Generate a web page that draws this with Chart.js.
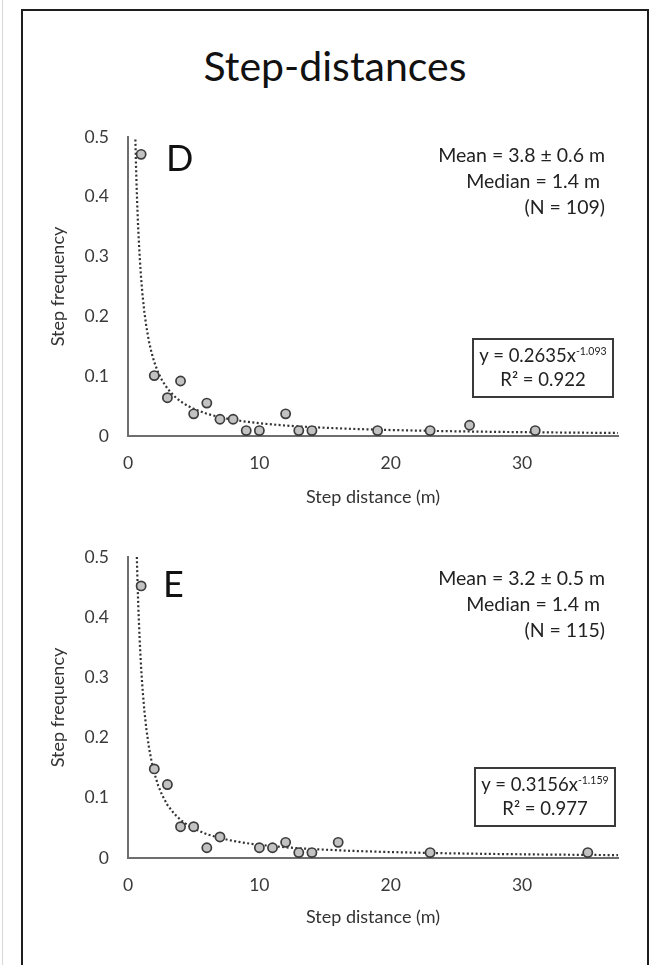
<!DOCTYPE html>
<html>
<head>
<meta charset="utf-8">
<script src="https://cdn.jsdelivr.net/npm/chart.js@4.4.1/dist/chart.umd.min.js"></script>
<style>
  body { margin: 0; background: #fff; font-family: Lato, "Noto Sans", sans-serif; color: #222; }
  #page { position: relative; width: 654px; height: 965px; overflow: hidden; }
  #frame { position: absolute; left: 21px; top: 9px; width: 624px; height: 980px; border: 2px solid #1e1e1e; }
  #edge { position: absolute; left: 2px; top: 0; width: 1px; height: 965px; background: #d8d8d8; }
  h1 { position: absolute; left: 0; width: 670px; top: 41px; margin: 0; text-align: center; font-weight: 400; font-size: 41px; line-height: 1.2; color: #111; }
  canvas { position: absolute; left: 0; }
  .panel { position: absolute; font-size: 36px; line-height: 40px; color: #111; }
  .stats { position: absolute; right: 49px; text-align: right; font-size: 19.5px; line-height: 26px; white-space: pre; color: #222; }
  .eq { position: absolute; width: 138px; height: 53px; border: 2px solid #3a3a3a; text-align: center; font-size: 18.5px; line-height: 24px; padding-top: 3px; box-sizing: content-box; color: #222; white-space: nowrap; }
  .eq sup { font-size: 10.5px; vertical-align: 7px; line-height: 0; }
</style>
</head>
<body>
<div id="page">
  <div id="edge"></div>
  <div id="frame"></div>
  <h1>Step-distances</h1>

  <canvas id="chart_d" width="654" height="420" style="top:100px"></canvas>
  <canvas id="chart_e" width="654" height="420" style="top:520px"></canvas>

  <div class="panel" style="left:166px; top:137px">D</div>
  <div class="stats" style="top:142px">Mean = 3.8 ± 0.6 m
Median = 1.4 m 
(N = 109)</div>
  <div class="eq" style="left:472px; top:338px">y = 0.2635x<sup>-1.093</sup><br>R² = 0.922</div>

  <div class="panel" style="left:163px; top:563px">E</div>
  <div class="stats" style="top:565px">Mean = 3.2 ± 0.5 m
Median = 1.4 m 
(N = 115)</div>
  <div class="eq" style="left:474px; top:767px">y = 0.3156x<sup>-1.159</sup><br>R² = 0.977</div>
</div>

<script>
// step distance (m) and share of steps, panel D
let distD = [1, 2, 3, 4, 5, 6, 7, 8, 9, 10, 12, 13, 14, 19, 23, 26, 31];
let freqD = [0.471, 0.101, 0.064, 0.092, 0.037, 0.055, 0.028, 0.028, 0.009, 0.009, 0.037, 0.009, 0.009, 0.009, 0.009, 0.018, 0.009];

// panel E
let distE = [1, 2, 3, 4, 5, 6, 7, 10, 11, 12, 13, 14, 16, 23, 35];
let freqE = [0.452, 0.148, 0.122, 0.052, 0.052, 0.017, 0.035, 0.017, 0.017, 0.026, 0.009, 0.009, 0.026, 0.009, 0.009];

// power trendlines y = a * x^b, coefficients as printed in the boxes
let trendD = [0.2635, -1.093];
let trendE = [0.3156, -1.159];
// x positions where the trendline gets sampled
let trendX = [0.5, 0.55, 0.6, 0.65, 0.7, 0.75, 0.8, 0.9, 1, 1.1, 1.25, 1.4, 1.6, 1.8, 2, 2.3, 2.6, 3, 3.5, 4, 4.5, 5, 6, 7, 8, 9, 10, 12, 14, 17, 20, 24, 28, 32, 37.3];

let yTicks = [0, 0.1, 0.2, 0.3, 0.4, 0.5];
let xTicks = [0, 10, 20, 30];

const font = "Lato, 'Noto Sans', sans-serif";

function toPoints(xs, ys){
    return xs.map(function(x, i){ return {x: x, y: ys[i]}; });
}

function trendPoints(coef){
    return trendX.map(function(x){ return {x: x, y: coef[0] * Math.pow(x, coef[1])}; });
}

function makeChart(id, dist, freq, coef, axisHeight){
    let ctx = document.getElementById(id);
    return new Chart(ctx, {
        type: 'scatter',
        data: {
            datasets: [{
                label: 'steps',
                data: toPoints(dist, freq),
                backgroundColor: '#c2c2c2',
                borderColor: '#3c3c3c',
                borderWidth: 1.7,
                pointRadius: 4.6
            }, {
                label: 'trend',
                type: 'line',
                data: trendPoints(coef),
                borderColor: '#333',
                borderWidth: 2.2,
                borderDash: [2, 2.4],
                pointRadius: 0,
                fill: false,
                tension: 0
            }]
        },
        options: {
            responsive: false,
            animation: false,
            events: [],
            layout: { padding: { top: 37, right: 36, left: 0, bottom: 0 } },
            plugins: { legend: { display: false }, tooltip: { enabled: false } },
            scales: {
                x: {
                    type: 'linear',
                    min: 0,
                    max: 37.3,
                    afterFit: function(scale){ scale.height = axisHeight; },
                    afterBuildTicks: function(scale){ scale.ticks = xTicks.map(function(v){ return {value: v}; }); },
                    grid: { display: false, drawTicks: false },
                    border: { display: true, color: '#6e6e6e', width: 2 },
                    ticks: { padding: 17, color: '#3a3a3a', font: { family: font, size: 17.5 } },
                    title: { display: true, text: 'Step distance (m)', color: '#333', font: { family: font, size: 18 }, padding: { top: 0, bottom: 12 } }
                },
                y: {
                    type: 'linear',
                    min: 0,
                    max: 0.5,
                    afterFit: function(scale){ scale.width = 128; },
                    afterBuildTicks: function(scale){ scale.ticks = yTicks.map(function(v){ return {value: v}; }); },
                    grid: { display: false, drawTicks: false },
                    border: { display: true, color: '#6e6e6e', width: 2 },
                    ticks: { padding: 19, color: '#3a3a3a', font: { family: font, size: 17.5 } },
                    title: { display: true, text: 'Step frequency', color: '#333', font: { family: font, size: 18 }, padding: { top: 47, bottom: 0 } }
                }
            }
        }
    });
}

makeChart('chart_d', distD, freqD, trendD, 84);
makeChart('chart_e', distE, freqE, trendE, 82);
</script>
</body>
</html>
